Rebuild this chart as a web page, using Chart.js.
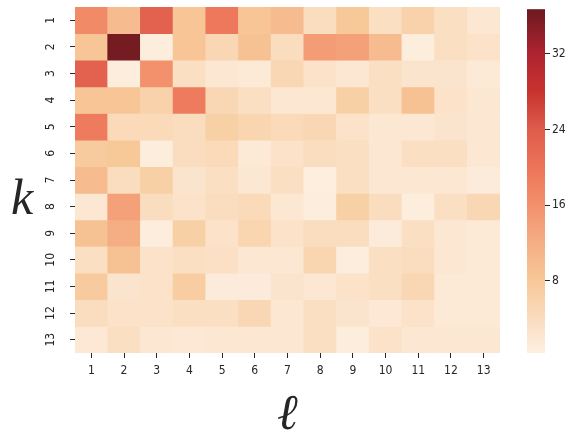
<!DOCTYPE html><html lang="en">
<head>
  <meta charset="UTF-8">
  <title>Heatmap k / l</title>
  <script src="https://cdn.jsdelivr.net/npm/chart.js"></script>
  <style>
    body { margin: 0; background: #fff; }
    #wrap { position: relative; width: 571px; height: 432px; }
    #heat { position: absolute; left: 0; top: 0; }
    #cbar { position: absolute; left: 500px; top: 0; }
  </style>
</head>
<body>
  <div id="wrap">
    <canvas id="heat" width="571" height="432"></canvas>
    <canvas id="cbar" width="71" height="432"></canvas>
  </div>
  <script>
    // column labels (l) and row labels (k)
    const ells = ['1','2','3','4','5','6','7','8','9','10','11','12','13'];
    const ks = [1,2,3,4,5,6,7,8,9,10,11,12,13];

    // one array per row k
    const row1  = [17, 10, 23, 8.5, 19.5, 8.5, 10, 4, 8, 3.5, 6, 3.5, 2];
    const row2  = [8.5, 36, 1, 8.5, 5, 9, 4, 14.5, 14, 10, 1, 3.5, 3];
    const row3  = [23, 1, 16, 3.5, 2, 1.5, 5, 3, 2, 3.5, 2.5, 2.5, 1.5];
    const row4  = [8.5, 8.5, 6, 19, 5, 3.5, 2, 2, 6.5, 3.5, 9, 3, 2];
    const row5  = [19, 4.5, 4.5, 4, 6.5, 5.5, 4.5, 5, 3, 2, 2, 2.5, 2];
    const row6  = [7.5, 8, 1, 4, 4.5, 1.5, 3, 4, 3.5, 2, 3.5, 3.5, 2];
    const row7  = [10, 4, 6.5, 2.5, 3.5, 2, 3.5, 0.8, 3.5, 2, 2, 2, 1.2];
    const row8  = [2, 14, 4, 3, 4, 4.5, 2, 1, 6.5, 4, 1, 3.5, 5];
    const row9  = [9, 12, 1, 6.5, 3, 5.5, 3, 4, 4, 1.2, 3.5, 2, 1.5];
    const row10 = [3.5, 9, 3, 3.5, 3.2, 2, 2, 5.5, 1, 3.5, 4, 2, 1.5];
    const row11 = [7.5, 2.5, 3, 7, 1.2, 1.2, 2.5, 2, 3, 3.5, 5, 1.5, 1.5];
    const row12 = [4, 3, 3, 3.5, 3.5, 5, 2, 3.5, 2.5, 1.8, 3, 1.5, 1.5];
    const row13 = [1.8, 3.5, 2, 1.8, 2, 2, 2, 3.5, 1, 3, 2, 2, 2];
    const rows = [row1, row2, row3, row4, row5, row6, row7, row8, row9, row10, row11, row12, row13];

    const cbarTicks = [8, 16, 24, 32];
    const vmin = 0.37, vmax = 36.7;

    // colormap stops: value -> rgb
    const stops = [
      [0.37, [253, 240, 226]],
      [4,    [250, 220, 190]],
      [8,    [247, 200, 152]],
      [12,   [245, 174, 132]],
      [16,   [243, 145, 108]],
      [20,   [236, 116, 88]],
      [24,   [222, 92, 76]],
      [28,   [200, 51, 47]],
      [32,   [174, 35, 48]],
      [36.7, [107, 26, 31]]
    ];

    function colorFor(v) {
      if (v <= stops[0][0]) return 'rgb(' + stops[0][1].join(',') + ')';
      for (let i = 1; i < stops.length; i++) {
        if (v <= stops[i][0]) {
          const [a, ca] = stops[i - 1], [b, cb] = stops[i];
          const t = (v - a) / (b - a);
          const c = ca.map((x, j) => Math.round(x + (cb[j] - x) * t));
          return 'rgb(' + c.join(',') + ')';
        }
      }
      return 'rgb(' + stops[stops.length - 1][1].join(',') + ')';
    }

    const tickFont = '12px "Liberation Sans Narrow", "DejaVu Sans Condensed", sans-serif';
    const textColor = '#262626';

    // draws the rotated k tick labels and the two math axis labels
    const labelsPlugin = {
      id: 'labels',
      afterDraw(chart) {
        const ctx = chart.ctx;
        const y = chart.scales.y;
        ctx.save();
        ctx.fillStyle = textColor;
        ctx.font = tickFont;
        ctx.textAlign = 'center';
        ctx.textBaseline = 'middle';
        ks.forEach(k => {
          ctx.save();
          ctx.translate(51, y.getPixelForValue(k));
          ctx.rotate(-Math.PI / 2);
          ctx.fillText(String(k), 0, 0);
          ctx.restore();
        });
        ctx.font = 'italic 50px "Liberation Serif", "DejaVu Serif", serif';
        ctx.textBaseline = 'alphabetic';
        ctx.fillText('k', 22, 214);
        const a = chart.chartArea;
        ctx.fillText('\u2113', (a.left + a.right) / 2, 429);
        ctx.restore();
      }
    };

    new Chart(document.getElementById('heat'), {
      type: 'bar',
      data: {
        labels: ells,
        datasets: rows.map((vals, i) => ({
          label: 'k=' + ks[i],
          data: vals.map(() => [ks[i] - 0.5, ks[i] + 0.5]),
          backgroundColor: vals.map(colorFor),
          borderWidth: 0,
          barPercentage: 1,
          categoryPercentage: 1,
          grouped: false
        }))
      },
      options: {
        responsive: false,
        animation: false,
        layout: { padding: { left: 0, right: 71, top: 7, bottom: 0 } },
        plugins: { legend: { display: false }, tooltip: { enabled: false } },
        scales: {
          x: {
            grid: { offset: false, drawOnChartArea: false, drawTicks: true, tickLength: 5, color: textColor },
            border: { display: false },
            ticks: { color: textColor, font: { family: '"Liberation Sans Narrow", "DejaVu Sans Condensed", sans-serif', size: 12 }, padding: 6, maxRotation: 0 },
            afterFit: s => { s.height = 79; }
          },
          y: {
            reverse: true,
            min: 0.5,
            max: 13.5,
            afterBuildTicks: s => { s.ticks = ks.map(v => ({ value: v })); },
            grid: { drawOnChartArea: false, drawTicks: true, tickLength: 5, color: textColor },
            border: { display: false },
            ticks: { display: false },
            afterFit: s => { s.width = 75; }
          }
        }
      },
      plugins: [labelsPlugin]
    });

    // colour bar
    const gradientPlugin = {
      id: 'gradient',
      beforeDatasetsDraw(chart) {
        const a = chart.chartArea;
        const ctx = chart.ctx;
        const g = ctx.createLinearGradient(0, a.bottom, 0, a.top);
        stops.forEach(([v, c]) => {
          g.addColorStop((v - vmin) / (vmax - vmin), 'rgb(' + c.join(',') + ')');
        });
        ctx.save();
        ctx.fillStyle = g;
        ctx.fillRect(a.left, a.top, a.right - a.left, a.bottom - a.top);
        ctx.restore();
      }
    };

    new Chart(document.getElementById('cbar'), {
      type: 'bar',
      data: { labels: [''], datasets: [{ data: [] }] },
      options: {
        responsive: false,
        animation: false,
        layout: { padding: { left: 27, right: 0, top: 7, bottom: 79 } },
        plugins: { legend: { display: false }, tooltip: { enabled: false } },
        scales: {
          x: { display: false },
          y: {
            position: 'right',
            min: vmin,
            max: vmax,
            afterBuildTicks: s => { s.ticks = cbarTicks.map(v => ({ value: v })); },
            grid: { drawOnChartArea: false, drawTicks: true, tickLength: 5, color: textColor },
            border: { display: false },
            ticks: { color: textColor, font: { family: '"Liberation Sans Narrow", "DejaVu Sans Condensed", sans-serif', size: 12 }, padding: 2 },
            afterFit: s => { s.width = 26; }
          }
        }
      },
      plugins: [gradientPlugin]
    });
  </script>
</body>
</html>
